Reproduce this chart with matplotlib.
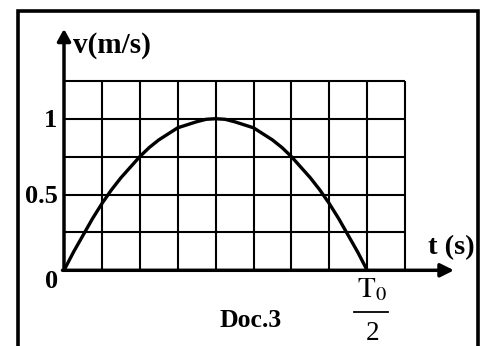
import matplotlib
matplotlib.use("Agg")
import matplotlib.pyplot as plt
from matplotlib.lines import Line2D

# ===========================
# DATA
# ===========================
# t in grid columns (T0/2 sits on column 8), v in m/s
t_cols = [0, 0.25, 0.5, 0.75, 1, 1.25, 1.5, 1.75, 2, 2.25, 2.5, 2.75, 3,
          3.25, 3.5, 3.75, 4, 4.25, 4.5, 4.75, 5, 5.25, 5.5, 5.75, 6,
          6.25, 6.5, 6.75, 7, 7.25, 7.5, 7.75, 8]
v_vals = [0, 0.12, 0.23, 0.34, 0.44, 0.53, 0.61, 0.68, 0.75, 0.81, 0.86,
          0.90, 0.94, 0.96, 0.98, 0.996, 1.0, 0.996, 0.98, 0.96, 0.94,
          0.90, 0.86, 0.81, 0.75, 0.68, 0.61, 0.53, 0.44, 0.34, 0.23,
          0.12, 0]

grid_cols = [0, 1, 2, 3, 4, 5, 6, 7, 8, 9]
grid_rows = [0, 0.25, 0.5, 0.75, 1.0, 1.25]
ytick_vals = [1.0, 0.5]
ytick_labels = ["1", "0.5"]

# ===========================
# SETTINGS
# ===========================
W, H, DPI = 482, 346, 100
X0_PX, Y0_PX = 64, 270.3      # pixel position of the origin
COL_PX = 37.9                 # one grid column in px
V_PX = 151.6                  # 1 m/s in px

plt.rcParams["mathtext.fontset"] = "stix"
SERIF = "Liberation Serif"

fig = plt.figure(figsize=(W / DPI, H / DPI), dpi=DPI)
ax = fig.add_axes([0, 0, 1, 1])
ax.set_xlim(-X0_PX / COL_PX, (W - X0_PX) / COL_PX)
ax.set_ylim(-(H - Y0_PX) / V_PX, Y0_PX / V_PX)
ax.axis("off")

# grid
for c in grid_cols[1:]:
    ax.plot([c, c], [grid_rows[0], grid_rows[-1]], color="black", lw=1.5,
            solid_capstyle="butt")
for r in grid_rows[1:]:
    ax.plot([grid_cols[0], grid_cols[-1]], [r, r], color="black", lw=1.5,
            solid_capstyle="butt")

# axes arrows
ax.annotate("", xy=(0, 1.592), xytext=(0, 0),
            arrowprops=dict(arrowstyle="-|>,head_length=0.36,head_width=0.2",
                            lw=2.5, color="black", mutation_scale=20,
                            shrinkA=0, shrinkB=0))
ax.annotate("", xy=(10.29, 0), xytext=(-0.04, 0),
            arrowprops=dict(arrowstyle="-|>,head_length=0.4,head_width=0.2",
                            lw=2.5, color="black", mutation_scale=20,
                            shrinkA=0, shrinkB=0))

# curve
ax.plot(t_cols, v_vals, color="black", lw=2.4, solid_joinstyle="round",
        solid_capstyle="round")

# labels
bold = dict(family=SERIF, fontweight="bold", color="black")
ax.text(0.24, 1.484, "v(m/s)", fontsize=21, ha="left", va="center", **bold)
ax.text(10.22, 0.147, "t (s)", fontsize=20.5, ha="center", va="center", **bold)
for v, lab in zip(ytick_vals, ytick_labels):
    ax.text(-0.17, v - 0.01, lab, fontsize=19, ha="right", va="center", **bold)
ax.text(-0.325, -0.077, "0", fontsize=19, ha="center", va="center", **bold)
ax.text(4.92, -0.334, "Doc.3", fontsize=18.5, ha="center", va="center", **bold)

# T0 / 2 fraction under column 8
ax.text(8.12, -0.125, r"$\mathrm{T}_0$", fontsize=21, ha="center", va="center")
ax.plot([7.66, 8.55], [-0.274, -0.274], color="black", lw=1.3)
ax.text(8.15, -0.42, "2", fontsize=19.5, ha="center", va="center",
        family=SERIF)

# outer frame (bottom edge lies below the picture)
fx0, fx1, fy1 = 17.7 / W, 478 / W, 1 - 10.5 / H
fig.add_artist(Line2D([fx0, fx0, fx1, fx1], [0, fy1, fy1, 0],
                      transform=fig.transFigure, color="black", lw=2.6,
                      solid_joinstyle="miter"))

fig.savefig("out.png", dpi=DPI)
